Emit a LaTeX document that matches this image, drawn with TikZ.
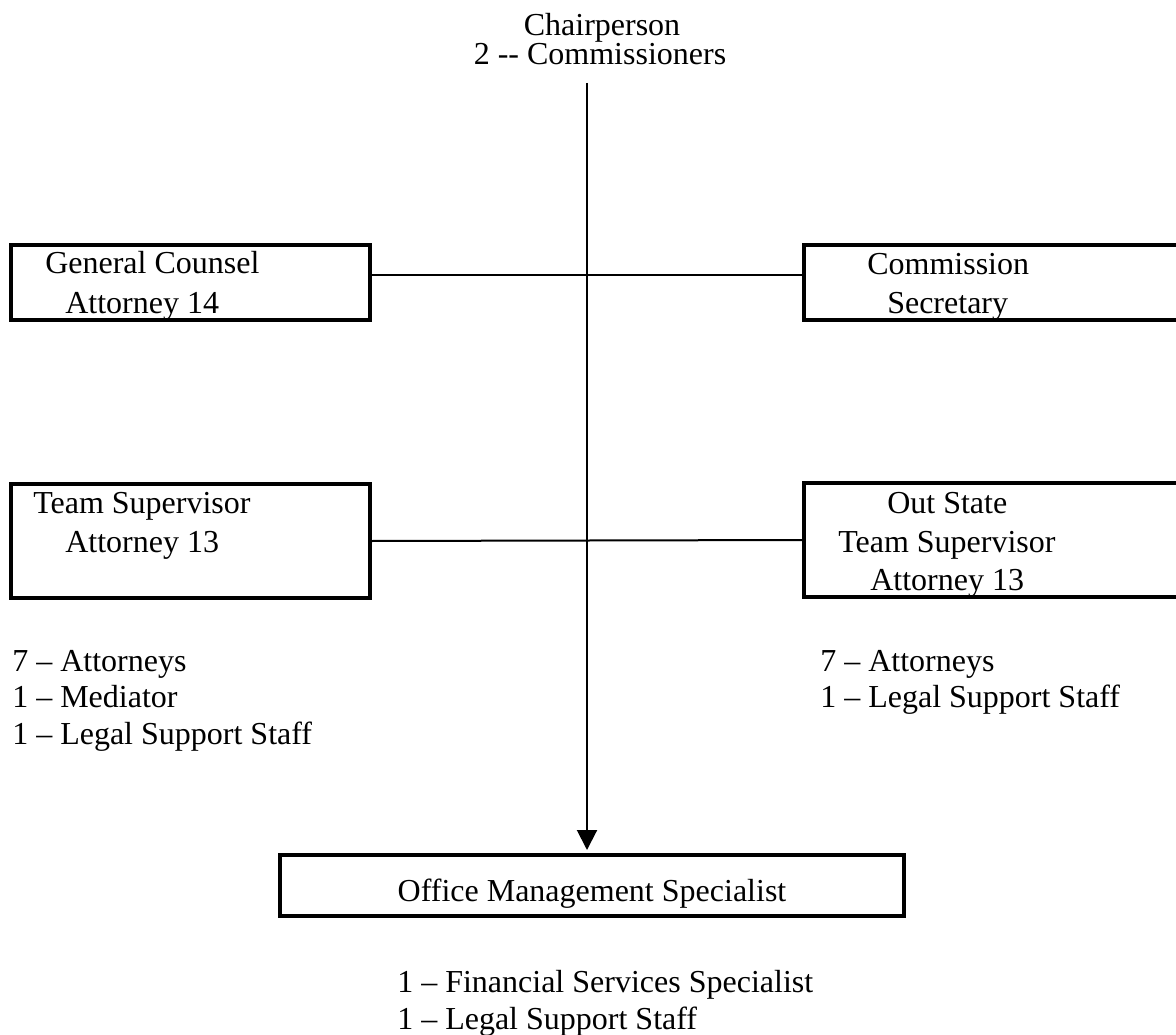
\documentclass[tikz,border=0pt]{standalone}
\usepackage{fontspec}
\setmainfont{Liberation Serif}
\usetikzlibrary{positioning, arrows.meta}

\begin{document}
\begin{tikzpicture}[
    x=0.75pt, y=-0.75pt,
    font=\fontsize{24}{29}\selectfont,
    box node/.style={draw=black, line width=3pt, inner sep=0pt, outer sep=0pt, anchor=north west},
    text line/.style={inner sep=0pt, anchor=base west},
    link line/.style={line width=1.5pt},
    arrow line/.style={-{Triangle[width=15pt, length=15pt]}, line width=1.5pt, shorten >=3.75pt}
]
    \useasboundingbox (0,0) rectangle (1176,1034);

    % Top
    \node[inner sep=0pt, anchor=base] (chair) at (602,36) {Chairperson};
    \node[inner sep=0pt, anchor=base] (comm) at (600,65) {2 -{}- Commissioners};
    \coordinate (top) at (587,83);

    % Boxes
    \node[box node, minimum width=269.25pt, minimum height=56.25pt] (gc) at (11,245) {};
    \node[box node, minimum width=297pt, minimum height=56.25pt] (cs) at (804,245) {};
    \node[box node, minimum width=269.25pt, minimum height=85.5pt] (ts) at (11,484) {};
    \node[box node, minimum width=297pt, minimum height=85.5pt] (os) at (804,483) {};
    \node[box node, minimum width=468pt, minimum height=45.75pt] (office) at (280,855) {};

    % Box texts
    \node[text line] (gc1) at (45,273) {General Counsel};
    \node[text line] (gc2) at (65,313) {Attorney 14};
    \node[text line] (cs1) at (867,274) {Commission};
    \node[text line] (cs2) at (887,313) {Secretary};
    \node[text line] (ts1) at (33,513) {Team Supervisor};
    \node[text line] (ts2) at (65,552) {Attorney 13};
    \node[text line] (os1) at (887,513) {Out State};
    \node[text line] (os2) at (838,552) {Team Supervisor};
    \node[text line] (os3) at (870,590) {Attorney 13};
    \node[inner sep=0pt, anchor=base] (om) at (592,901) {Office Management Specialist};

    % Staff lists
    \node[text line] (l1) at (12,671) {7 – Attorneys};
    \node[text line] (l2) at (12,707) {1 – Mediator};
    \node[text line] (l3) at (12,744) {1 – Legal Support Staff};
    \node[text line] (r1) at (820,671) {7 – Attorneys};
    \node[text line] (r2) at (820,707) {1 – Legal Support Staff};
    \node[text line] (b1) at (397,992) {1 – Financial Services Specialist};
    \node[text line] (b2) at (397,1029) {1 – Legal Support Staff};

    % Connectors
    \draw[link line] ([yshift=5.6pt]gc.east) -- ([yshift=5.6pt]cs.west);
    \draw[link line] (ts.east) -- (os.west);
    \draw[arrow line] (top) -- (top |- office.north);

\end{tikzpicture}
\end{document}
